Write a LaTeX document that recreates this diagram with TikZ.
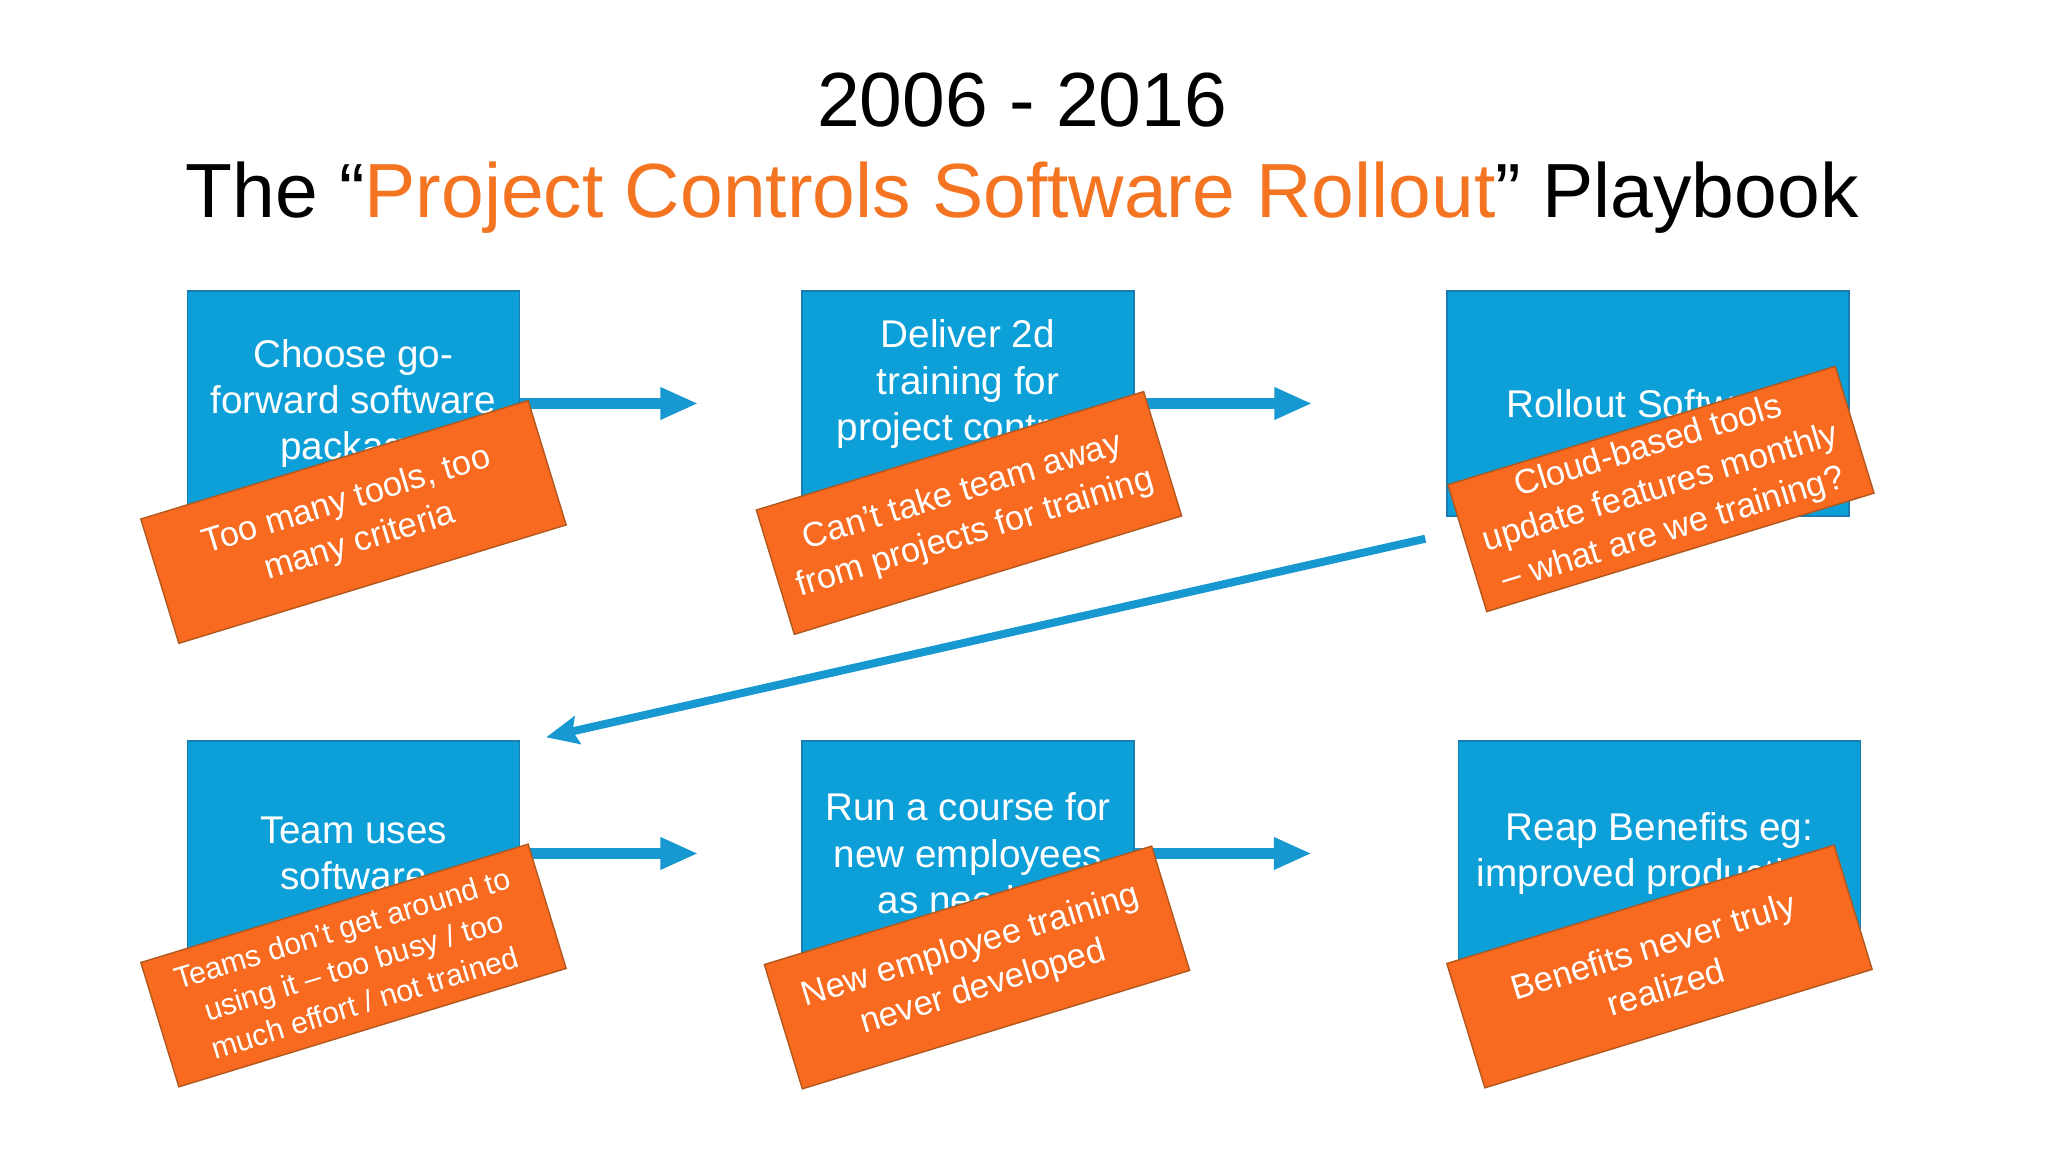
\documentclass[tikz,border=0pt]{standalone}
\usepackage{fontspec}
\setmainfont{Liberation Sans}
\usepackage{tikz}
\usetikzlibrary{arrows.meta, positioning}
\definecolor{boxblue}{RGB}{13,160,216}
\definecolor{boxline}{RGB}{27,125,175}
\definecolor{arrowblue}{RGB}{24,152,208}
\definecolor{issueorange}{RGB}{247,106,31}
\definecolor{issueline}{RGB}{178,88,30}
\definecolor{titleorange}{RGB}{244,116,33}
\tikzstyle{stepbox} = [rectangle, minimum width=3.32cm, minimum height=2.25cm, text centered, align=center, draw=boxline, fill=boxblue, text=white, font=\fontsize{11}{13.2}\selectfont]
\tikzstyle{widebox} = [stepbox, minimum width=4.02cm]
\tikzstyle{issue} = [rectangle, rotate=17, minimum width=4.05cm, minimum height=1.3cm, inner sep=2pt, align=center, draw=issueline, fill=issueorange, text=white, font=\fontsize{9.8}{12.3}\selectfont]
\tikzstyle{arrow} = [line width=0.11cm, -{Triangle[length=0.38cm,width=0.30cm]}, draw=arrowblue]
\tikzstyle{backarrow} = [line width=0.08cm, -{Stealth[length=0.32cm,width=0.28cm,inset=0.05cm]}, draw=arrowblue]
\tikzstyle{titletext} = [anchor=base, font=\fontsize{21.85}{26}\selectfont]

\begin{document}
\begin{tikzpicture}[node distance=6.145cm]
\fill[white] (0,0) rectangle (20.48,11.52);
\useasboundingbox (0,0) rectangle (20.48,11.52);

\node(years)[titletext] at (10.22,10.25) {2006 - 2016};
\node(headline)[titletext] at (10.22,9.34) {The “\textcolor{titleorange}{Project Controls Software Rollout}” Playbook};

\node(choose)[stepbox] at (3.535,7.485) {Choose go-\\forward software\\package};
\node(deliver)[stepbox,right of=choose] {Deliver 2d\\training for\\project controls\\~};
\node(rollout)[widebox,right of=deliver,xshift=0.655cm] {Rollout Software};
\node(useit)[stepbox,below of=choose,yshift=1.645cm] {Team uses\\software};
\node(course)[stepbox,right of=useit] {Run a course for\\new employees\\as needed};
\node(reap)[widebox,right of=course,xshift=0.77cm] {Reap Benefits eg:\\improved productivity};

\draw [arrow,shorten >=1.03cm] (choose) -- (deliver);
\draw [arrow,shorten >=1.34cm] (deliver) -- (rollout);
\draw [arrow,shorten >=1.03cm] (useit) -- (course);
\draw [arrow,shorten >=1.46cm] (course) -- (reap);

\coordinate (loopstart) at ([xshift=-0.21cm,yshift=-0.22cm]rollout.south west);
\coordinate (loopend) at ([xshift=0.26cm,yshift=0.03cm]useit.north east);
\draw [backarrow] (loopstart) -- (loopend);

\node(issue1)[issue] at ([yshift=-1.185cm]choose.center) {Too many tools, too\\many criteria};
\node(issue2)[issue] at ([xshift=0.01cm,yshift=-1.095cm]deliver.center) {Can’t take team away\\from projects for training};
\node(issue3)[issue] at ([xshift=0.13cm,yshift=-0.855cm]rollout.center) {Cloud-based tools\\update features monthly\\– what are we training?};
\node(issue4)[issue,font=\fontsize{8.6}{11}\selectfont] at ([yshift=-1.12cm]useit.center) {Teams don’t get around to\\using it – too busy / too\\much effort / not trained};
\node(issue5)[issue] at ([xshift=0.09cm,yshift=-1.14cm]course.center) {New employee training\\never developed};
\node(issue6)[issue] at ([yshift=-1.13cm]reap.center) {Benefits never truly\\realized};
\end{tikzpicture}
\end{document}
